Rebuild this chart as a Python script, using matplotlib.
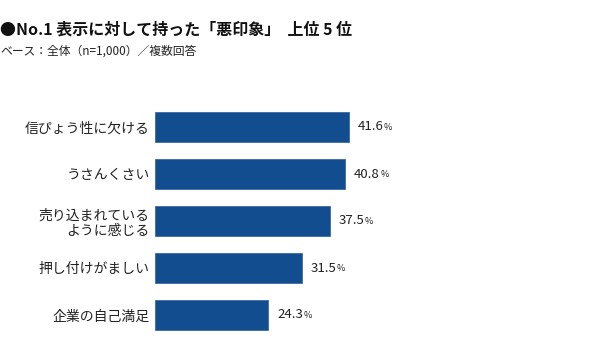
import matplotlib
matplotlib.use("Agg")
import matplotlib.pyplot as plt

plt.rcParams['font.family'] = ['Noto Sans CJK JP', 'DejaVu Sans']

categories = ['信ぴょう性に欠ける', 'うさんくさい', '売り込まれている\nように感じる',
              '押し付けがましい', '企業の自己満足']
values = [41.6, 40.8, 37.5, 31.5, 24.3]

title = '●No.1 表示に対して持った「悪印象」  上位 5 位'
subtitle = 'ベース：全体（n=1,000）／複数回答'

fig = plt.figure(figsize=(6, 3.52), dpi=100)
ax = fig.add_axes([155 / 600, 1 - 338.5 / 352, 445 / 600, 235 / 352])

y = list(range(len(categories)))
ax.barh(y, values, height=0.64, color='#114d8f', edgecolor='#3a6aa3', linewidth=0.6)
ax.set_xlim(0, 445 / 4.66)
ax.set_ylim(len(categories) - 0.5, -0.5)

ax.set_yticks(y)
ax.set_yticklabels(categories, fontsize=10, color='#222222', linespacing=1.15)
ax.tick_params(axis='y', length=0, pad=4)
ax.set_xticks([])
for s in ax.spines.values():
    s.set_visible(False)

# value labels with a smaller % sign
for yi, v in zip(y, values):
    t = ax.annotate(f'{v:.1f}', xy=(v, yi), xytext=(6.5, 0), textcoords='offset points',
                    ha='left', va='center', fontsize=9.5, color='#222222')
    ax.annotate('%', xy=(1, 0.12), xycoords=t, xytext=(0.2, 0), textcoords='offset points',
                ha='left', va='bottom', fontsize=6.5, color='#222222')

fig.text(0, 1 - 30 / 352, title, fontsize=11.5, fontweight='bold', va='center', ha='left', color='#111111')
fig.text(0, 1 - 51 / 352, subtitle, fontsize=8.5, va='center', ha='left', color='#222222')

fig.savefig('out.png', dpi=100)
